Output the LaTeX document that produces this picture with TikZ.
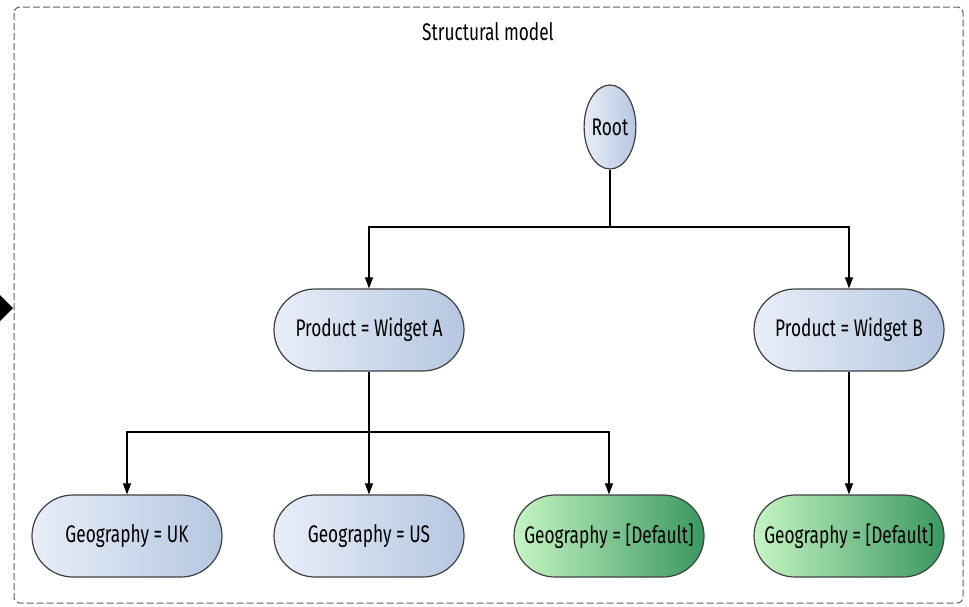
\documentclass[tikz,border=0pt]{standalone}
\usepackage{fontspec}
\setmainfont{Fira Sans}[FakeStretch=0.72]
\usetikzlibrary{shapes.geometric,shapes.misc,arrows.meta}
\definecolor{bl}{HTML}{E8EEF8}
\definecolor{br}{HTML}{B5C7E1}
\definecolor{gl}{HTML}{C6F5C4}
\definecolor{gr}{HTML}{3A9860}
\definecolor{edge}{HTML}{404040}
\definecolor{framec}{HTML}{606060}
\tikzset{
  lbl/.style={font=\fontsize{24}{26}\selectfont},
  pill/.style={rounded rectangle, draw=edge, line width=1.2pt, minimum width=190pt, minimum height=82pt, inner sep=0pt, lbl, shading=axis, shading angle=90},
  bluepill/.style={pill, left color=bl, right color=br},
  greenpill/.style={pill, left color=gl, right color=gr},
  rootnode/.style={ellipse, draw=edge, line width=1.2pt, minimum width=50pt, minimum height=84pt, inner sep=0pt, left color=bl, right color=br, lbl},
  arr/.style={line width=1.1pt, -{Triangle[length=11pt,width=8pt]}},
  frame/.style={draw=framec, line width=1pt, dash pattern=on 7pt off 3pt, rounded corners=6pt}
}
\begin{document}
\begin{tikzpicture}[x=1pt,y=-1pt]
\useasboundingbox (0,0) rectangle (969,606);
\draw[frame] (14,7) rectangle (963,603);
\node[lbl] (title) at (488,32) {Structural model};
\fill (0,295) -- (13,308) -- (0,321) -- cycle;
\node[rootnode] (root) at (610,127) {Root};
\node[bluepill] (pa) at (369,330) {Product = Widget A};
\node[bluepill] (pb) at (849,330) {Product = Widget B};
\node[bluepill] (uk) at (127,536) {Geography = UK};
\node[bluepill] (us) at (369,536) {Geography = US};
\node[greenpill] (da) at (609,536) {Geography = [Default]};
\node[greenpill] (db) at (849,536) {Geography = [Default]};
\coordinate (j1) at (610,227);
\coordinate (j2) at (369,432);
\draw[arr] (root.south) -- (j1) -| (pa.north);
\draw[arr] (j1) -| (pb.north);
\draw[arr] (pa.south) -- (us.north);
\draw[arr] (j2) -| (uk.north);
\draw[arr] (j2) -| (da.north);
\draw[arr] (pb.south) -- (db.north);
\end{tikzpicture}
\end{document}
